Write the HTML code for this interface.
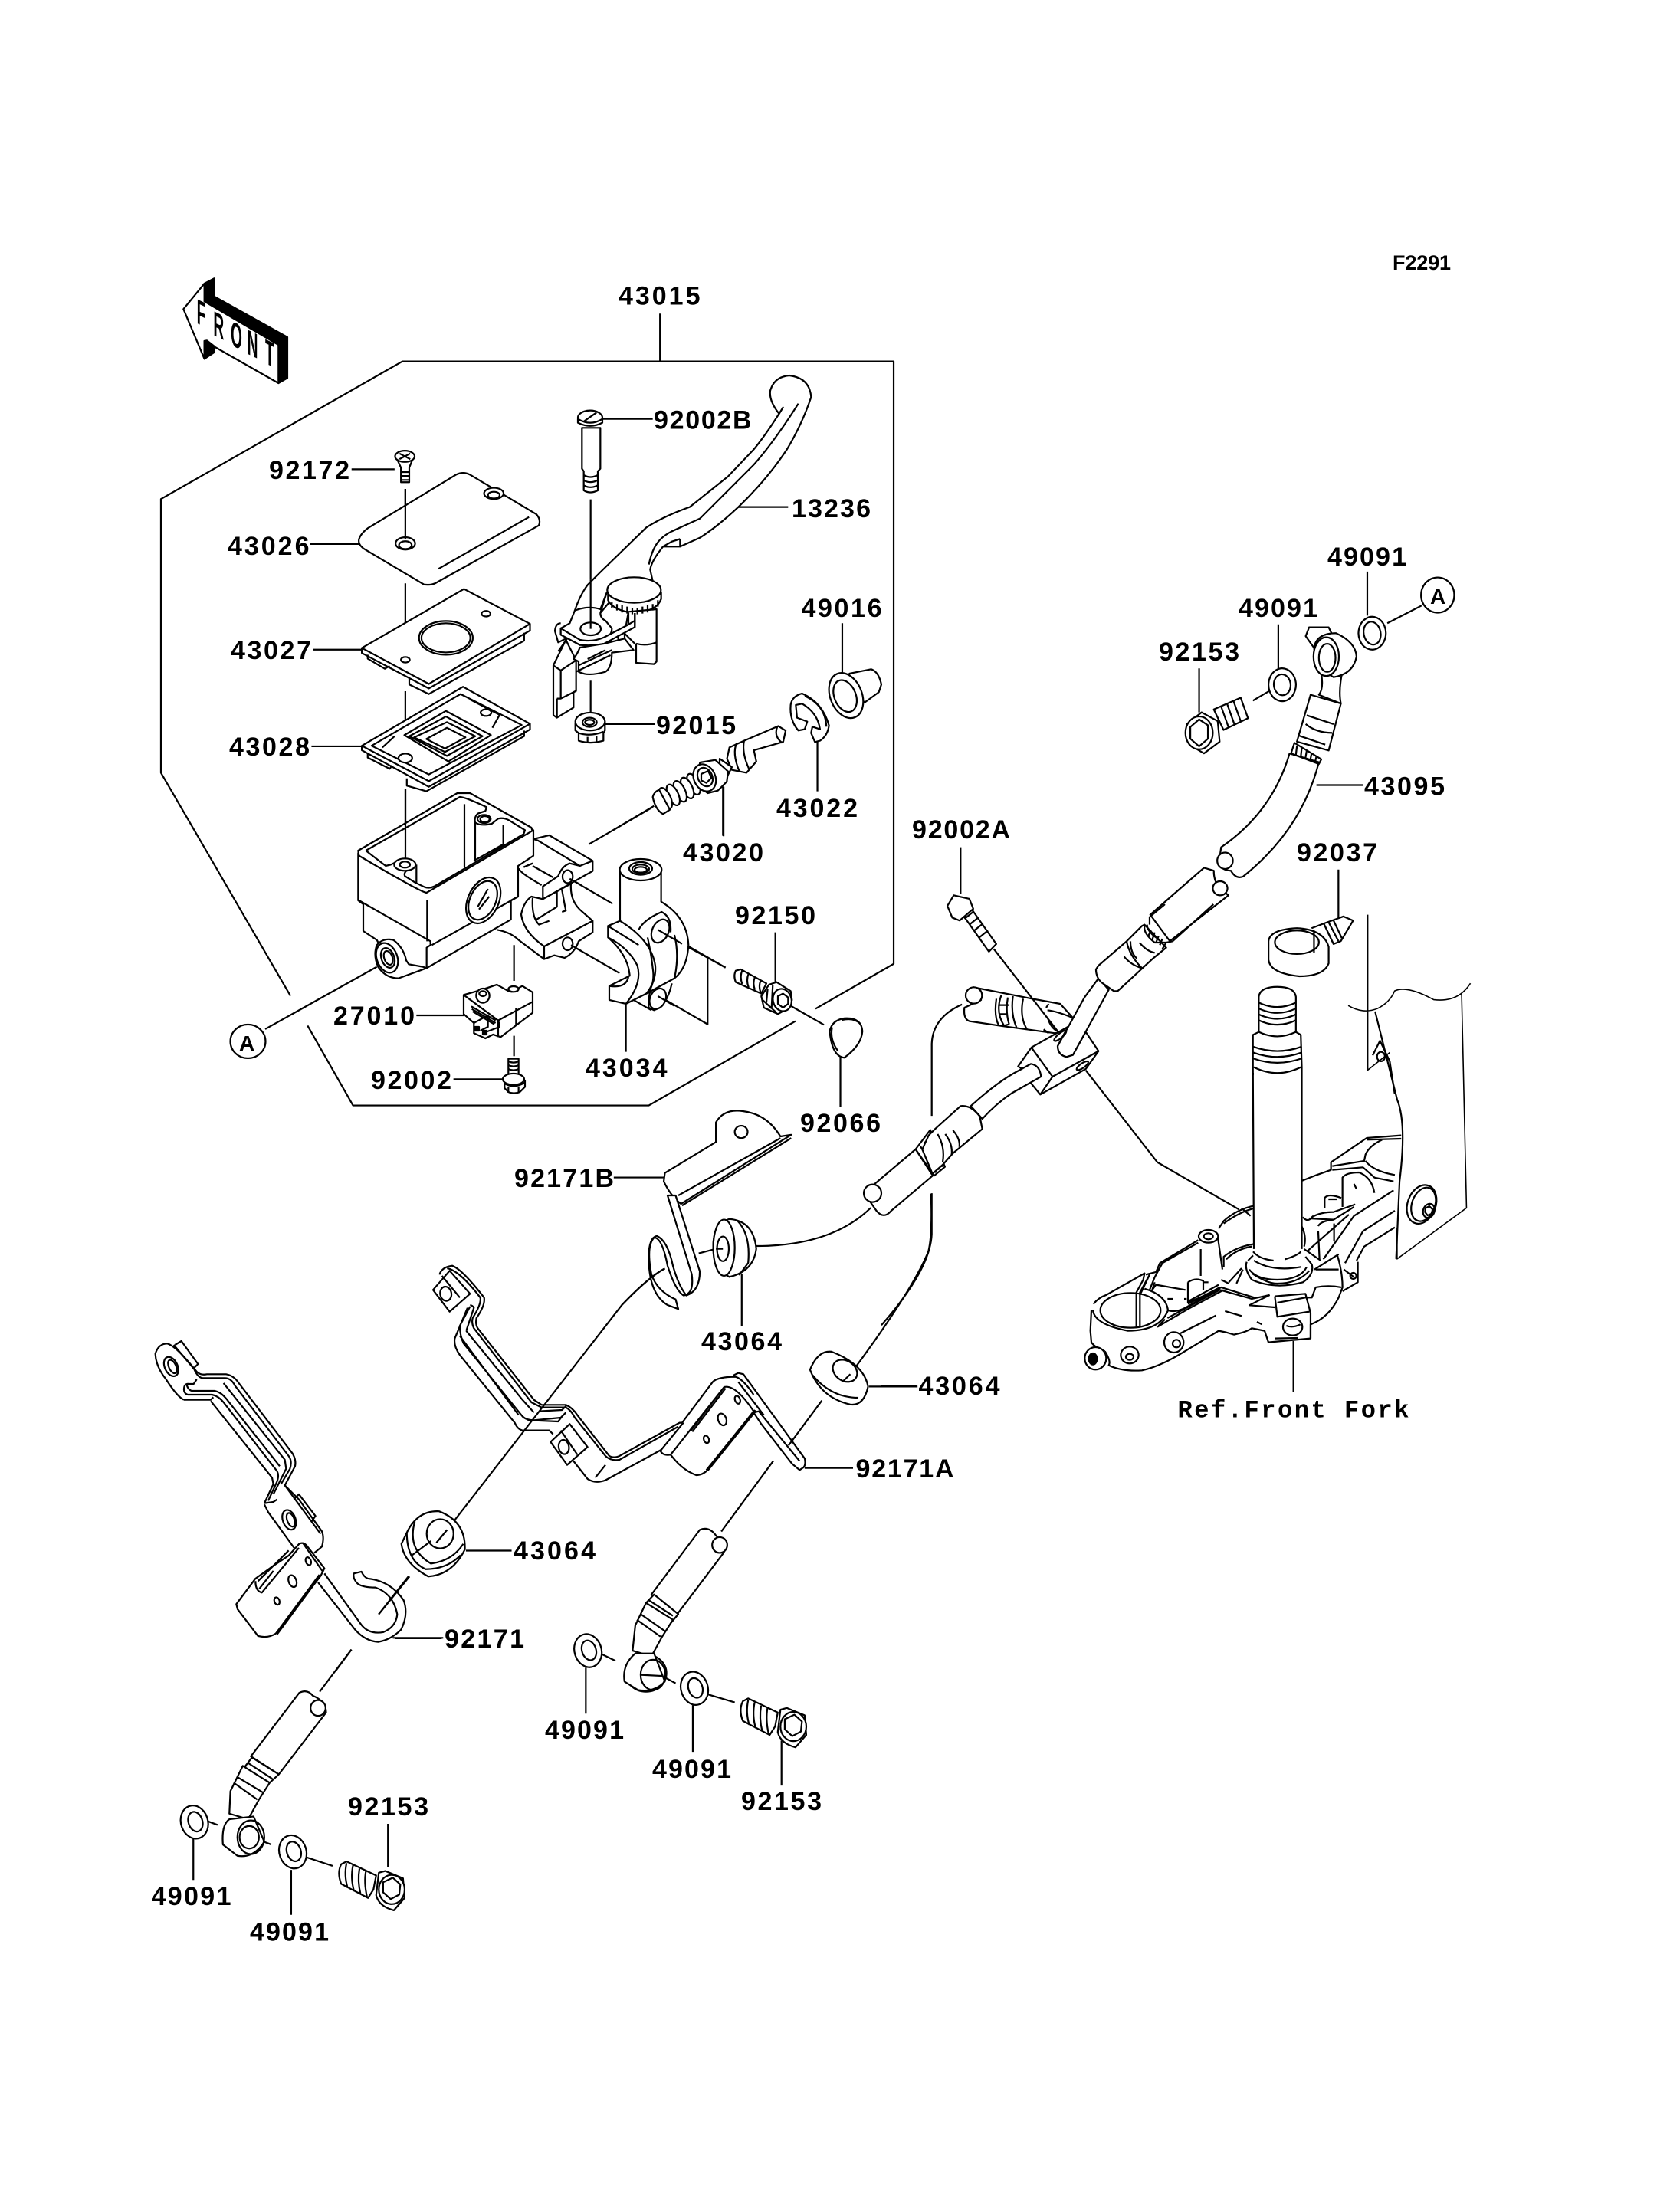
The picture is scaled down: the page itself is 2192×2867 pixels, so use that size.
<!DOCTYPE html>
<html><head><meta charset="utf-8"><style>
html,body{margin:0;padding:0;background:#fff}
svg{display:block}
path,ellipse,circle,polygon{fill:none;stroke:#000;stroke-width:2.2;vector-effect:non-scaling-stroke;stroke-linejoin:round}
.w{fill:#fff}
.k{fill:#000}
.t{stroke-width:1.6}
text{font-family:"Liberation Sans",sans-serif;font-weight:bold;font-size:34px;fill:#000}
</style></head><body>
<svg width="2192" height="2867" viewBox="0 0 2192 2867" xmlns="http://www.w3.org/2000/svg">
<rect width="2192" height="2867" fill="#fff"/>
<defs>
<g id="bolt">
<path class="w" d="M-90 -40Q-98 -25 -90 -5L-40 20L-30 5L-25 -20L-80 -45Z"/>
<path d="M-80 -42Q-85 -20 -78 2M-68 -38Q-73 -15 -66 8M-56 -32Q-60 -10 -54 13M-44 -28Q-48 -8 -42 18"/>
<path class="w" d="M-20 -25L-8 -28L25 -15L28 20L8 42Q-20 35 -25 15Z"/>
<ellipse class="w" cx="4" cy="5" rx="24" ry="26"/>
<polygon points="-12,-8 6,-16 20,-4 18,14 2,22 -12,10"/>
</g>
<g id="washer">
<ellipse class="w" cx="0" cy="0" rx="25" ry="30" transform="rotate(-20)"/>
<ellipse cx="2" cy="0" rx="13" ry="18" transform="rotate(-20)"/>
</g>
</defs>

<!-- FRONT arrow -->
<g transform="translate(220,350) scale(.3333)">
<path class="k" d="M140 60L178 40V110L465 270V430L430 450V300L140 130Z"/>
<path class="w" d="M140 60L58 160L140 355V285L430 450V300L140 130Z"/>
<path class="k" d="M140 285L150 283L178 305V330L140 355Z"/>
<text style="font-size:137px" transform="translate(110,215) skewY(25) scale(.42,1)">F</text>
<text style="font-size:137px" transform="translate(175,262) skewY(25) scale(.42,1)">R</text>
<text style="font-size:137px" transform="translate(243,300) skewY(25) scale(.42,1)">O</text>
<text style="font-size:137px" transform="translate(308,335) skewY(25) scale(.42,1)">N</text>
<text style="font-size:137px" transform="translate(378,372) skewY(25) scale(.42,1)">T</text>
</g>

<!-- ===== GROUP 1 : cover, gasket, diaphragm, misc ===== -->
<g transform="translate(180,330) scale(.6378,.7334)">
<path d="M1068 108V193M312 1322L47 925V438L541 193H1546V1265L1386 1345M1345 1367L1045 1517H440L347 1375"/>
<path d="M437 385H525M352 518H452M358 706H458M355 878H458M547 420V510M547 588V720M547 780V890M1390 870V958M1198 950V1038M1437 1430V1520"/>
<!-- screw 92172 -->
<ellipse class="w" cx="546" cy="362" rx="20" ry="10"/>
<path d="M535 357L557 367M557 357L535 367M530 367L538 382V408H555V382L562 367M538 390H555M538 397H555M538 404H555"/>
<!-- cover 43026 -->
<path class="w" d="M452 510Q455 500 470 490L650 395Q665 388 680 395L815 465Q825 475 820 485L610 587Q600 592 585 590L465 528Q450 520 452 510Z"/>
<path d="M615 562L800 470"/>
<ellipse class="w" cx="547" cy="517" rx="20" ry="11"/><ellipse cx="547" cy="520" rx="13" ry="7"/>
<ellipse class="w" cx="728" cy="428" rx="20" ry="10"/><ellipse cx="728" cy="431" rx="12" ry="6"/>
<path d="M547 420V510"/>
<!-- gasket 43027 -->
<path class="w" d="M458 703L667 598L802 660V672L595 775L458 712Z"/>
<path d="M458 703L595 767L802 660M470 715V722L505 740L515 735M555 757V768L595 785L790 690V676"/>
<ellipse cx="630" cy="685" rx="55" ry="30"/><ellipse cx="630" cy="685" rx="50" ry="26"/>
<ellipse cx="712" cy="642" rx="9" ry="5"/><ellipse cx="547" cy="724" rx="9" ry="5"/>
<!-- diaphragm 43028 -->
<path class="w" d="M458 877L665 772L802 838V848L595 950L458 885Z"/>
<path d="M458 877L595 940L802 838M470 890V898L515 918L520 912M550 935V948L590 958L790 860V850M478 877L660 785L785 840L595 928Z"/>
<path d="M545 858L630 815L722 858L635 905ZM555 860L630 825L705 860L632 895ZM565 862L632 835L690 860L628 888Z"/>
<path d="M590 865L632 845L670 862L628 882Z"/>
<ellipse class="w" cx="547" cy="899" rx="14" ry="8"/><ellipse class="w" cx="712" cy="818" rx="11" ry="6"/>
<path d="M680 795L740 822L725 845M500 880L525 860"/>
<!-- piston -->
<path class="w" d="M1310 842L1325 850L1320 870L1260 885L1265 905L1245 925L1215 920L1205 900L1210 880L1240 868Z"/>
<path d="M1225 872Q1215 890 1230 922M1240 868Q1235 890 1250 918"/>
<path d="M1308 843Q1300 860 1318 872"/>
<path class="w" d="M1190 900L1215 915L1195 950L1175 958L1190 930Z"/>
<!-- cap 92066 -->
<path class="w" d="M1415 1385Q1420 1365 1445 1362Q1480 1360 1482 1385Q1480 1410 1445 1432Q1420 1430 1415 1385Z"/>
<path d="M1420 1378Q1415 1400 1432 1420M1478 1372Q1465 1360 1440 1365"/>
<ellipse class="w" cx="225" cy="1403" rx="36" ry="30"/>
</g>

<!-- lever 13236 etc -->
<g transform="translate(700,480) scale(.3333)">
<path d="M258 200H455M268 1395H465M790 545H985M1197 1000V1195M212 515V830M212 1225V1350"/>
<path class="w" d="M950 180Q910 130 915 90Q930 35 990 30Q1070 40 1075 115Q1040 220 980 320Q900 440 790 545Q710 620 640 665L562 700H495L480 720Q450 760 445 790L455 835L300 900L250 960L150 950Q170 890 200 850L250 800L430 625Q500 580 600 545L750 425L850 320Q900 260 965 155Z"/>
<path d="M1025 140Q930 290 850 380L640 590L530 640Q490 660 470 690Q450 720 440 770M562 670V700M495 700L530 680L562 670"/>
<!-- knob -->
<path class="w" d="M280 885V910Q300 950 380 960Q470 955 488 905V880Z"/>
<path class="w" d="M470 945V1150L460 1160L390 1155V1085L345 1040L360 955Z"/>
<path d="M390 1080Q430 1090 470 1075M385 960V1015"/>
<ellipse class="w" cx="382" cy="870" rx="105" ry="50"/>
<path d="M295 915V940M315 925V950M335 930V958M355 935V962M375 940V965M395 940V965M415 935V962M435 930V958M455 925V950M475 910V935"/>
<path class="w" d="M275 880L250 960Q250 980 270 990L295 1020Q295 1050 265 1060L170 1085L95 1045V1020L130 1000L150 950Q200 930 250 945Z"/>
<!-- plate -->
<path class="w" d="M95 1020V1045L170 1085Q220 1090 265 1080L385 1015V990L360 1005L265 1055Q220 1075 170 1065Z"/>
<ellipse class="w" cx="212" cy="1022" rx="40" ry="25"/>
<path d="M212 830V1022M345 1040V1060M320 1045V1065M385 1015V960M360 1005V960"/>
<!-- ear -->
<path d="M95 1000Q75 1000 72 1030L85 1075L115 1060M85 1110L120 1060"/>
<path class="w" d="M66 1165L115 1065L155 1145V1265L145 1270V1330L80 1370L66 1360Z"/>
<path d="M66 1165L95 1185L155 1145M95 1185V1295L155 1265M80 1295H95M80 1295V1370"/>
<!-- under -->
<path class="w" d="M170 1095Q160 1120 145 1140L165 1150V1190Q200 1210 270 1190Q295 1175 295 1115L380 1105L345 1060L265 1080Z"/>
<path d="M200 1140L270 1105M165 1165L295 1105M155 1190L290 1125"/>
<!-- pin -->
<path class="w" d="M178 235V395L185 405V480Q210 495 240 480V405L250 395V235Z"/>
<ellipse class="w" cx="210" cy="195" rx="48" ry="28"/>
<path class="w" d="M162 200V215Q210 240 258 215V200Q210 230 162 200Z"/>
<path d="M185 210L235 175M185 420Q210 435 240 420M185 440Q210 455 240 440M185 460Q210 475 240 460"/>
<!-- nut -->
<path class="w" d="M152 1390V1420L165 1430V1460Q210 1475 262 1460V1430L268 1420V1385Z"/>
<ellipse class="w" cx="210" cy="1385" rx="58" ry="35"/>
<ellipse cx="208" cy="1388" rx="28" ry="18"/><ellipse cx="208" cy="1388" rx="18" ry="10"/>
<path d="M165 1430Q210 1445 262 1425M200 1445V1470M235 1440V1465"/>
<!-- boot -->
<path class="w" d="M1225 1197L1310 1180Q1340 1190 1350 1240L1340 1270L1285 1310L1225 1260Z"/>
<ellipse class="w" cx="1212" cy="1283" rx="62" ry="92" transform="rotate(-22 1212 1283)"/>
<ellipse cx="1208" cy="1285" rx="42" ry="65" transform="rotate(-22 1208 1285)"/>
<!-- circlip -->
<path class="w" d="M995 1320Q1000 1285 1040 1275Q1120 1310 1145 1400Q1140 1440 1110 1460L1090 1465L1075 1430L1080 1405L1110 1415Q1100 1350 1040 1315L1015 1320L1020 1370L1060 1385L1050 1415L1025 1420Q990 1380 995 1320Z"/>
<path d="M1050 1285Q1130 1320 1135 1405"/>
</g>

<!-- spring & screw 92150 -->
<g transform="translate(800,1000) scale(.3333)">
<path d="M635 650V845M690 935L825 1012M440 788L170 640M0 250L160 155"/>
<ellipse class="w" cx="315" cy="70" rx="20" ry="44" transform="rotate(-25 315 70)"/>
<ellipse class="w" cx="290" cy="85" rx="20" ry="44" transform="rotate(-25 290 85)"/>
<ellipse class="w" cx="262" cy="98" rx="20" ry="44" transform="rotate(-25 262 98)"/>
<ellipse class="w" cx="235" cy="112" rx="20" ry="44" transform="rotate(-25 235 112)"/>
<ellipse class="w" cx="205" cy="125" rx="20" ry="44" transform="rotate(-25 205 125)"/>
<path class="w" d="M155 120Q160 100 180 92L222 170L195 187Q165 170 155 120Z"/>
<path class="w" d="M340 -15L400 -25L450 20L445 60L410 95L370 105L325 70Z"/>
<ellipse class="w" cx="358" cy="45" rx="42" ry="55" transform="rotate(-25 358 45)"/>
<ellipse cx="360" cy="42" rx="28" ry="38" transform="rotate(-25 360 42)"/>
<path d="M345 30L372 18L385 45L365 65L345 55Z"/>
<!-- screw -->
<path class="w" d="M480 800Q470 820 480 845L580 890L600 850L500 795Z"/>
<path d="M505 800Q495 825 505 852M530 812Q520 838 530 865M555 825Q545 850 555 875M578 838Q568 860 578 888"/>
<path class="w" d="M610 855L640 845L695 880L700 915L690 945L645 970L590 945L580 900Z"/>
<ellipse class="w" cx="662" cy="915" rx="36" ry="44" transform="rotate(-15 662 915)"/>
<polygon points="645,900 665,890 685,905 685,930 665,945 645,930"/>
<path d="M605 870L600 925M625 855L620 950M585 915L640 965"/>
</g>

<!-- body / clamp / switch -->
<g transform="translate(450,1020) scale(.3333)">
<path d="M237 30V310M280 915H465M425 1165H620M955 245L1205 100M1100 870V1058M1250 590L1490 728M1230 840L1420 950V690M1480 20V212M880 380L1048 478M885 640L1075 750M662 640V780M662 995V1075M-312 969L125 725"/>
<!-- rim -->
<path class="w" d="M52 270L440 45H490L730 180L738 205L320 435Q300 435 55 290Z"/>
<path d="M82 270L450 60Q470 60 555 100L550 115L520 125Q505 140 510 160V310M510 160Q530 175 575 165L600 145Q620 140 640 150L705 190L700 205L350 410Q330 420 310 412L275 395L235 370Q225 350 275 330M82 270L160 330L180 325L210 310M280 325V395M468 88V335M620 170V245M505 310L620 245"/>
<path d="M237 30V310"/>
<ellipse class="w" cx="235" cy="325" rx="42" ry="24"/><ellipse cx="235" cy="325" rx="20" ry="12"/>
<ellipse class="w" cx="545" cy="146" rx="26" ry="16"/>
<ellipse cx="548" cy="147" rx="18" ry="12"/>
<!-- walls -->
<path class="w" d="M52 280V465L72 480V585L125 620L200 760L320 730L650 540V465L678 450V330L738 290V190L320 435Q300 435 55 290Z"/>
<path d="M55 465L335 625V640L320 650V730M322 465V625M340 640L678 450M700 335L735 320"/>
<!-- sight -->
<ellipse class="w" cx="542" cy="465" rx="60" ry="95" transform="rotate(25 542 465)"/>
<ellipse cx="540" cy="465" rx="50" ry="80" transform="rotate(25 540 465)"/>
<path d="M520 490L560 420M525 500L565 450"/>
<!-- port -->
<path class="w" d="M125 640Q150 610 190 620Q230 650 240 700L250 715L305 725L320 730L210 770Q160 770 130 725Q110 680 125 640Z"/>
<ellipse class="w" cx="165" cy="690" rx="40" ry="60" transform="rotate(-20 165 690)"/>
<ellipse cx="168" cy="690" rx="25" ry="40" transform="rotate(-20 168 690)"/>
<ellipse cx="170" cy="690" rx="16" ry="28" transform="rotate(-20 170 690)"/>
<!-- clamp halves -->
<path class="w" d="M738 225L800 210L970 310V350L890 395L775 460V410L835 370Q850 330 880 320L920 330L755 230Z"/>
<path d="M920 330L970 310M680 340Q690 360 770 405M735 330L815 375M700 335L735 320"/>
<path class="w" d="M775 460L730 450Q700 470 690 520Q700 590 780 645V695L820 680L860 690Q900 670 915 625L970 590V545L930 510Q880 470 885 400L775 460Z"/>
<path d="M735 455Q730 530 760 560L800 545M750 540L830 490V425M850 425L860 480L865 505L850 510M780 645L970 545M595 580Q650 590 680 620L780 695"/>
<ellipse class="w" cx="872" cy="372" rx="20" ry="25"/>
<ellipse class="w" cx="872" cy="635" rx="20" ry="25"/>
<path d="M880 380L925 405M885 640L925 663"/>
<!-- clamp 43034 -->
<path class="w" d="M1077 345V545L1030 565V610Q1110 680 1115 760L1035 800V855L1100 870L1180 830L1290 770Q1340 730 1345 640Q1340 530 1238 470V345Z"/>
<ellipse class="w" cx="1158" cy="345" rx="82" ry="42"/>
<ellipse cx="1158" cy="340" rx="45" ry="25"/><ellipse cx="1158" cy="342" rx="33" ry="17"/><ellipse cx="1158" cy="345" rx="24" ry="11"/>
<path d="M1030 565L1150 640M1077 545Q1200 620 1215 720Q1220 780 1180 830M1030 610Q1110 650 1145 720Q1165 790 1100 870M1035 800Q1100 810 1110 765M1150 580Q1170 540 1240 510Q1280 530 1275 590M1185 610Q1200 680 1205 730Q1215 790 1185 830M1290 600Q1310 680 1290 770M1195 820Q1185 870 1190 885L1210 895Q1260 880 1280 790M1130 855L1200 895"/>
<ellipse class="w" cx="1235" cy="585" rx="32" ry="48" transform="rotate(25 1235 585)"/>
<ellipse class="w" cx="1225" cy="850" rx="30" ry="42" transform="rotate(25 1225 850)"/>
<path d="M1225 580L1320 635M1225 840L1290 878"/>
<!-- switch -->
<path class="w" d="M465 835L535 815L595 795L640 820Q660 830 685 805L695 800L735 825V905L610 1000L580 990L550 1005L505 985V945L465 910Z"/>
<path d="M465 835L600 935L735 862M600 935V1000M670 885V955M495 880L590 935M497 890L590 945M500 900L585 950M505 945L560 915V960L530 975M540 985L605 960V940"/>
<ellipse class="w" cx="540" cy="838" rx="26" ry="28"/><ellipse cx="540" cy="830" rx="14" ry="10"/>
<ellipse class="w" cx="660" cy="812" rx="20" ry="11"/>
<path class="k" d="M510 960H525V975H510ZM540 975H555V990H540Z"/>
<!-- screw 92002 -->
<path class="w" d="M640 1085H680V1145H640Z"/>
<path d="M640 1095Q660 1105 680 1095M640 1110Q660 1120 680 1110M640 1125Q660 1135 680 1125"/>
<path class="w" d="M625 1175V1200L640 1215Q660 1225 685 1215L705 1195V1170Z"/>
<ellipse class="w" cx="660" cy="1165" rx="42" ry="22"/>
<path d="M640 1195V1218M680 1195V1218M622 1180Q660 1205 705 1178"/>
</g>

<!-- ===== triple clamp ===== -->
<g transform="translate(1400,1400) scale(.3333)">
<path d="M80 905Q100 880 130 870L280 785L275 810L248 860V995M262 870L300 790L262 860V990M285 790L325 780L340 745L490 655M300 850L320 800L350 745L490 665"/>
<path d="M78 930Q85 985 215 1010Q340 1010 372 930Q365 870 280 845M72 930L68 1010L72 1055Q85 1075 125 1090"/>
<ellipse cx="225" cy="930" rx="118" ry="68"/>
<path d="M565 630L585 770M570 610L590 580Q640 535 710 520M590 590Q650 545 710 530M500 690V795M660 530L695 560"/>
<path d="M320 820L310 850L325 830L440 850M372 930Q400 940 440 920L580 840L710 880M370 960L575 850L700 885L770 870M450 905L575 840M450 895L570 830M450 900L575 845M335 990L360 965"/>
<path d="M450 820Q480 800 510 815V850M450 820V900M370 885H392M435 885H445M510 820H530"/>
<path d="M125 1090Q150 1130 140 1145Q190 1170 270 1165Q340 1150 430 1095L570 1010Q600 1015 630 1025Q680 1015 700 1000L750 1010L765 1055L930 1040V985Q1000 960 1040 880L1055 840Q1055 780 1035 715"/>
<path d="M330 995L450 925L590 850M420 1020L560 950M595 933L660 952M720 975L740 985"/>
<path d="M790 875L910 865L930 940V1040M790 875L800 955L925 935M800 900L910 880M690 910L790 918M790 1040L880 1038M690 910L770 870M910 880H935L950 840Q1000 830 1050 840"/>
<ellipse cx="860" cy="995" rx="38" ry="33"/><path d="M835 990Q860 1000 890 985"/>
<!-- flange -->
<path d="M680 740Q670 770 700 810Q790 850 900 820Q945 790 935 750L910 720M690 770Q720 810 800 810Q890 810 915 760M700 785Q760 825 800 825Q880 825 925 775M685 735L705 715"/>
<path d="M590 760V720Q640 680 710 670M600 730Q640 690 700 680M610 820L660 765M640 825L665 770M610 825L580 810"/>
<!-- right arm -->
<path d="M890 425Q950 400 1010 380V350L1150 255Q1220 250 1285 245M1015 365L1140 345L1145 320Q1160 285 1210 262M1145 345Q1175 385 1260 400M1015 380L1135 370Q1170 400 1180 410L1255 425M1150 262L1285 258"/>
<path d="M1055 525V410Q1070 390 1120 390Q1170 410 1180 470M1100 435L1110 455M985 530V490Q1000 470 1050 490M1000 495H1035"/>
<path d="M935 565Q970 545 1020 545L1105 515M925 570L1020 575L1100 525M960 620L965 730M960 600Q970 580 1020 575M1022 590V660"/>
<path d="M905 690L970 735M915 700L1080 555M980 730L1100 560L1255 460M945 770L1040 710M1065 745L1135 620L1260 540M1110 735L1140 680L1260 605M1115 740V820L1055 855M1060 770L1100 800M1040 770H950"/>
<ellipse cx="1097" cy="795" rx="12" ry="12"/>
<path d="M900 565Q920 590 940 560M895 600Q915 640 905 680"/>
<!-- stem marks -->
<path d="M708 0Q720 50 830 50M860 40L895 20M715 70L745 100M790 110Q860 110 890 70M770 605L845 650M710 630L740 655M772 665Q830 680 892 630M705 700Q730 730 785 735M830 730Q880 715 892 700M708 735Q780 780 892 760"/>
<!-- bosses -->
<ellipse class="w" cx="530" cy="640" rx="38" ry="25"/><ellipse cx="530" cy="640" rx="18" ry="12"/>
<ellipse class="w" cx="395" cy="1055" rx="38" ry="40"/><ellipse cx="405" cy="1060" rx="15" ry="15"/>
<ellipse class="w" cx="222" cy="1105" rx="35" ry="33"/><ellipse cx="222" cy="1112" rx="15" ry="12"/>
<ellipse class="w" cx="88" cy="1118" rx="42" ry="44"/><ellipse class="k" cx="78" cy="1120" rx="16" ry="22"/>
<!-- fork bolt -->
<ellipse class="w" cx="1365" cy="515" rx="55" ry="78" transform="rotate(20 1365 515)"/>
<ellipse cx="1372" cy="515" rx="45" ry="68" transform="rotate(20 1372 515)"/>
<ellipse cx="1393" cy="540" rx="22" ry="28" transform="rotate(20 1393 540)"/>
<polygon points="1380,530 1395,522 1408,535 1403,552 1388,558 1378,545"/>
<path d="M863 1050V1248"/>
</g>

<!-- ===== GROUP 2 : upper hose / fork ===== -->
<g transform="translate(1150,700) scale(.6378,.7653)">
<path d="M994 60V135M812 150V225M1035 148L1105 118M760 280L805 258M650 225V300M890 424H985M162 530V610M935 568V650M0 1448H72"/>
<path d="M103 865V988M103 1120V1190Q100 1250 0 1345M165 798Q105 820 103 865"/>
<!-- washers -->
<ellipse class="w" cx="1004" cy="165" rx="28" ry="28" transform="rotate(-25 1004 165)"/><ellipse cx="1004" cy="165" rx="17" ry="20" transform="rotate(-25 1004 165)"/>
<ellipse class="w" cx="820" cy="253" rx="28" ry="28" transform="rotate(-25 820 253)"/><ellipse cx="820" cy="253" rx="17" ry="18" transform="rotate(-25 820 253)"/>
<!-- bolt upper -->
<path class="w" d="M680 295L735 275L750 310L700 330Z"/>
<path d="M695 290L710 325M707 285L722 320M720 280L735 315"/>
<path class="w" d="M625 320L655 300L688 315L692 350L660 370L630 355Z"/>
<ellipse class="w" cx="650" cy="335" rx="28" ry="28"/>
<polygon points="632,325 650,312 668,322 668,345 650,358 632,345"/>
<!-- upper banjo -->
<path class="w" d="M868 170L875 155H915L925 172L885 190Z"/>
<path class="w" d="M900 235Q905 260 895 270L940 285Q935 265 942 235Z"/>
<path class="w" d="M885 190Q890 165 930 165Q970 180 972 205Q965 235 925 240Q890 225 885 190Z"/>
<ellipse class="w" cx="910" cy="205" rx="26" ry="33"/><ellipse cx="912" cy="207" rx="17" ry="24"/>
<path class="w" d="M878 270L940 285L915 365L850 350Z"/>
<path d="M870 305L925 320M868 320Q890 335 922 335M855 340L908 355"/>
<path class="w" d="M835 370L895 385Q860 500 740 580Q725 585 715 570Q700 570 690 560L695 530Q800 470 835 370Z"/>
<path class="w" d="M845 352L900 380L895 388L838 370Z"/>
<path d="M850 358L848 372M860 360L858 376M870 366L867 380M880 370L877 383M890 375L887 385M835 370L895 385"/>
<ellipse class="w" cx="703" cy="553" rx="16" ry="14"/>
<path class="w" d="M660 565L680 570Q680 590 693 600L710 612L590 690L550 645Z"/>
<ellipse class="w" cx="693" cy="600" rx="15" ry="12"/>
<!-- lower hose tail -->
<path class="w" d="M70 1045L100 1012L130 1075L108 1090Z"/>
<path d="M80 1040L112 1085M88 1032L118 1080M96 1024L125 1075"/>
<path class="w" d="M70 1045L-15 1105L-35 1120L-10 1150Q5 1165 20 1150L105 1090Z"/>
<ellipse class="w" cx="-18" cy="1120" rx="18" ry="15"/>
<!-- bolt 92002A -->
<path class="w" d="M162 640L180 630L235 695L220 708Z"/>
<path d="M170 652L188 640M180 662L198 650M190 672L208 660M200 684L218 672"/>
<path class="w" d="M135 630L148 612L180 618L188 635L160 655L145 650Z"/>
<!-- stem -->
<path class="w" d="M772 785Q775 768 810 768Q845 768 848 785V845L858 850L860 905L858 1215L762 1215V905L760 850L772 845Z" style="stroke:none"/>
<path d="M772 785Q775 768 810 768Q845 768 848 785V845L858 850L860 905V1215M772 785V845L760 850V905L762 1215"/>
<path d="M772 795Q810 810 848 795M772 805Q810 820 848 805M772 815Q810 830 848 815M772 825Q810 840 848 825M772 845Q810 860 848 845M760 870Q810 885 860 870M760 880Q810 895 860 880M760 890Q810 905 860 890M762 905Q810 925 858 905"/>
<!-- 92037 ring -->
<path class="w" d="M792 690Q795 670 850 668Q905 670 915 700V728Q905 750 855 750Q795 745 792 722Z"/>
<ellipse cx="850" cy="692" rx="45" ry="20"/>
<path d="M885 672V710M880 668L905 660L925 695"/>
<path class="w" d="M905 660L945 648L965 655L940 690L925 695Z"/>
<path d="M915 658L935 690M925 655L942 685"/>
<!-- fork outline -->
<path class="t" d="M995 645V910L1040 880M955 800Q985 815 1015 805Q1040 795 1050 775Q1075 765 1130 790Q1180 795 1205 762M1187 780L1197 1145L1055 1232V1180"/>
<path d="M1010 810L1055 960Q1075 1000 1060 1100L1053 1232"/>
<path d="M1005 885L1020 860L1040 895L1050 950"/>
<ellipse cx="1022" cy="887" rx="8" ry="8"/>
<ellipse class="w" cx="1138" cy="100" rx="34" ry="30"/>
</g>

<!-- ===== hose junction ===== -->
<g transform="translate(1220,1180) scale(.3333)">
<path d="M590 650L870 1010L1190 1195"/>
<!-- banjo lower -->
<path class="w" d="M150 325L380 370L490 390L540 445Q530 490 470 505L360 490L270 478L135 458Q110 450 115 405L180 375Z"/>
<ellipse class="w" cx="152" cy="357" rx="32" ry="32"/>
<path d="M240 370Q230 440 250 475M260 355Q235 420 270 475L290 470M285 365Q275 420 290 470M305 360Q295 430 320 485M345 370Q330 440 360 490M440 415Q480 420 540 445M440 440Q450 480 475 495M435 405L445 390M425 490L445 505M250 395H290M250 430H285"/>
<path d="M230 175L490 510"/>
<!-- upper ferrule and neck -->
<path d="M840 50L900 0M930 145L1090 0M840 50V80"/>
<path class="w" d="M640 290L585 365L480 555Q480 590 515 598L540 590L680 335Z"/>
<path class="w" d="M810 85L750 145L640 240L630 255Q630 285 650 305L700 340H715L850 215L905 170L820 80Z"/>
<path d="M750 145Q760 200 810 250M800 150Q830 185 860 190M765 145Q765 190 790 212M740 205Q770 240 810 250"/>
<path d="M820 85Q815 115 860 150L905 150M830 80Q830 110 880 140M845 100L835 125M860 110L850 140M875 125L865 150M890 135L880 160"/>
<path d="M930 145L905 150L890 175"/>
<!-- block -->
<path class="w" d="M378 560L520 480L480 555Q480 590 515 598L540 590L590 500L640 575L590 645L412 745L375 700L350 650L325 635Z"/>
<path d="M378 562L460 675L640 575M460 675L412 745"/>
<ellipse cx="577" cy="632" rx="27" ry="9" transform="rotate(-35 577 632)"/>
<ellipse cx="490" cy="515" rx="30" ry="9" transform="rotate(-40 490 515)"/>
<!-- lower neck -->
<path class="w" d="M140 790Q250 690 330 650L375 625Q410 630 415 675L300 740Q240 780 185 840Z"/>
<!-- lower ferrule -->
<path class="w" d="M-25 905L0 880L100 790Q140 785 175 830L185 880L70 975L30 1020L-10 1055L-50 960Z"/>
<path d="M70 885Q100 920 95 950M40 900Q70 940 65 980M10 900Q40 950 30 1010"/>
</g>

<!-- ===== GROUP 3 : lower part ===== -->
<g transform="translate(180,1450) scale(.7015,.7334)">
<path d="M885 118H978M1043 253L1075 245M1150 240Q1290 240 1363 172M1123 290V382M1325 468Q1440 320 1470 250Q1478 220 1475 147M1360 490H1450M1272 515L1210 595M1240 635H1330M1182 622L1085 748M575 745L900 345Q950 295 980 280M448 895L505 828M610 782H695M478 938H565M397 958L338 1033M833 990V1072M1032 1057V1140M860 965L888 978M975 1005L1000 1018M1050 1035L1110 1052M1197 1120V1200M103 1295V1368M285 1350V1430M465 1268V1345M120 1260L148 1270M220 1295L248 1305M305 1325L362 1343"/>
<!-- grommet 3 -->
<path class="w" d="M500 750Q520 710 560 712Q610 730 608 780Q585 825 540 828Q495 805 490 770Z"/>
<path d="M500 750Q500 800 535 815Q575 815 600 790M515 730Q500 780 545 805Q585 800 605 770"/>
<ellipse class="w" cx="562" cy="752" rx="25" ry="26"/>
<path d="M510 790L545 765M575 745L555 768"/>
<!-- clip B -->
<path class="w" d="M980 110L1075 55V20Q1090 -5 1125 0Q1170 5 1195 45L1215 42L1010 165Q990 150 978 125Z"/>
<path d="M1215 48L1012 168M1195 48L1005 150"/>
<ellipse cx="1122" cy="37" rx="12" ry="11"/>
<path class="w" d="M985 150L1030 290Q1035 325 1015 328Q1000 320 985 275Q975 225 960 225Q945 240 955 290Q965 320 1000 335L1005 352L985 345Q950 325 950 260Q950 225 965 222Q985 230 995 275Q1005 310 1020 328Q1045 320 1045 285L1000 150Z"/>
<path d="M980 280Q950 295 900 345"/>
<!-- grommet 1 -->
<path class="w" d="M1100 192Q1145 195 1150 245Q1145 285 1100 295Q1070 280 1070 240Q1070 200 1100 192Z"/>
<ellipse class="w" cx="1090" cy="243" rx="20" ry="50"/>
<ellipse cx="1088" cy="245" rx="11" ry="22"/>
<path d="M1115 195Q1140 220 1135 270L1118 292M1075 245H1088"/>
<!-- grommet right -->
<path class="w" d="M1250 460Q1265 425 1290 428Q1350 450 1358 490Q1350 525 1325 522Q1270 510 1250 460Z"/>
<path d="M1255 470Q1290 510 1340 510"/>
<ellipse class="w" cx="1315" cy="462" rx="24" ry="18" transform="rotate(30 1315 462)"/>
<path d="M1325 468L1312 480"/>
<!-- lower hose right -->
<path class="w" d="M1045 745Q1062 738 1075 755Q1090 770 1090 785L1003 895L955 860Z"/>
<ellipse class="w" cx="1082" cy="772" rx="14" ry="14"/>
<path class="w" d="M945 875L960 860L1005 895L990 912L945 895Z"/>
<path d="M950 870L995 898M945 878L990 905M948 885L990 912"/>
<path class="w" d="M925 915L945 875L995 905L975 935L955 970L920 960Z"/>
<path d="M935 895L980 925M928 905L972 935"/>
<ellipse class="w" cx="945" cy="1000" rx="38" ry="33"/>
<path class="w" d="M925 965Q900 985 905 1015L930 1030Q960 1035 980 1015L960 965Z"/>
<ellipse cx="958" cy="1003" rx="23" ry="27"/>
<path d="M935 1003L975 1005"/>
<use href="#washer" transform="translate(837,960)"/>
<use href="#washer" transform="translate(1035,1027)"/>
<use href="#bolt" transform="translate(1215,1090)"/>
<!-- lower hose left -->
<path class="w" d="M300 1035Q315 1028 325 1040Q350 1050 350 1070L262 1180L210 1148Z"/>
<ellipse class="w" cx="335" cy="1062" rx="14" ry="14"/>
<path class="w" d="M200 1165L212 1150L262 1180L245 1195L200 1180Z"/>
<path d="M205 1160L250 1188M200 1170L245 1195"/>
<path class="w" d="M172 1210L195 1165L245 1195L225 1225L205 1260L170 1250Z"/>
<path d="M185 1185L232 1212M178 1195L222 1225"/>
<path class="w" d="M170 1260Q155 1270 158 1305L185 1325Q215 1330 235 1300L215 1255Z"/>
<ellipse cx="210" cy="1292" rx="25" ry="30"/><ellipse cx="207" cy="1292" rx="18" ry="20"/>
<use href="#washer" transform="translate(105,1265)"/>
<use href="#washer" transform="translate(288,1318)"/>
<use href="#bolt" transform="translate(468,1380)"/>
</g>

<!-- ===== left bracket 92171 ===== -->
<g transform="translate(190,1730) scale(.3333)">
<path d="M115 75L140 60L205 150L190 165"/>
<path d="M150 290Q125 280 80 210Q40 160 38 110Q50 70 85 70Q120 80 200 180Q215 195 240 190H315Q345 195 365 225L575 500Q590 525 585 550L545 625L600 680L690 805Q700 830 690 865L660 890"/>
<path d="M110 75L190 170Q205 205 225 205H310Q335 205 350 235L560 510Q575 530 565 560L530 620"/>
<path d="M200 210L188 228H170Q150 225 150 250Q150 265 165 270H260Q285 275 305 300L515 570Q525 590 510 620L480 685"/>
<path d="M160 228Q165 250 180 255H270Q295 260 315 285L525 550"/>
<path d="M305 225L545 525L550 560L500 660M150 290H255L265 280M255 295L495 595L500 620L465 695"/>
<ellipse cx="100" cy="160" rx="25" ry="40" transform="rotate(-25 100 160)"/>
<ellipse cx="105" cy="160" rx="14" ry="28" transform="rotate(-25 105 160)"/>
<path d="M465 695L500 690L515 680M465 700L480 730L585 875M545 625L685 815"/>
<ellipse cx="562" cy="760" rx="25" ry="40" transform="rotate(-20 562 760)"/>
<ellipse cx="568" cy="760" rx="14" ry="28" transform="rotate(-20 568 760)"/>
<path d="M580 680L600 660L665 745L650 765"/>
<path class="w" d="M355 1090L430 990L500 940L560 900L600 855Q615 845 630 860L700 950L685 980L510 1205Q480 1225 440 1215L360 1110Z"/>
<path d="M430 1000Q430 1040 455 1045L600 870M440 1000L560 880M445 1030L500 960M615 850L695 965M510 1205L680 975M515 1208L685 978"/>
<ellipse cx="637" cy="922" rx="10" ry="16" transform="rotate(-20 637 922)"/>
<ellipse cx="575" cy="1000" rx="15" ry="24" transform="rotate(-20 575 1000)"/>
<ellipse cx="514" cy="1078" rx="10" ry="15" transform="rotate(-20 514 1078)"/>
<path d="M675 1005L820 1190Q860 1235 910 1238Q960 1230 1000 1190Q1030 1130 1010 1075Q960 1000 870 990Q855 985 845 963L815 970Q810 990 830 1010Q850 1025 900 1025Q970 1050 985 1130Q980 1180 930 1200Q870 1210 840 1165L700 970"/>
<path d="M968 1222H1165M1030 980L912 1130M806 1268L745 1350"/>
</g>

<!-- ===== middle bracket 92171A ===== -->
<g transform="translate(550,1640) scale(.3333)">
<path d="M70 70Q80 40 120 35Q160 50 245 160Q250 190 215 240Q210 265 220 280L440 560L470 580H565Q590 590 610 620L735 780Q750 790 775 780L1010 650L1025 650"/>
<path d="M100 45Q150 55 230 160Q235 185 200 240Q195 260 205 280L430 570L470 590H565Q585 600 600 630L720 780Q740 800 775 795L1005 665"/>
<path d="M190 195L150 270Q150 310 165 340L395 625Q410 640 440 640L545 630L565 610M180 200L130 320Q125 350 150 385L365 650Q375 675 395 680H500L515 695M150 310L380 620M175 290L395 560L440 610M190 190Q200 190 205 200L175 290"/>
<path d="M415 640L535 645L550 625M460 605L550 600L570 580"/>
<path d="M595 800L650 870Q680 890 720 875L940 755M680 865L720 815"/>
<path class="w" d="M45 130L110 55L190 145L110 215Z"/>
<path d="M80 75L150 160"/>
<ellipse cx="95" cy="145" rx="22" ry="28" transform="rotate(-10 95 145)"/>
<path class="w" d="M505 725L580 655L650 745L570 815Z"/>
<path d="M545 680L610 775"/>
<ellipse cx="557" cy="745" rx="20" ry="28" transform="rotate(-10 557 745)"/>
<path d="M1025 650L935 760Q945 780 975 775M1020 650L1140 490Q1160 470 1230 470Q1260 480 1300 540"/>
<path class="w" d="M975 775L1185 510Q1230 500 1300 605L1120 835Q1100 855 1075 855Q1020 835 975 775Z"/>
<path d="M1055 680L1185 510M1060 685L1190 515M1115 835L1305 600M1120 838L1310 602"/>
<ellipse cx="1237" cy="560" rx="10" ry="16" transform="rotate(-20 1237 560)"/>
<ellipse cx="1177" cy="637" rx="16" ry="24" transform="rotate(-20 1177 637)"/>
<ellipse cx="1115" cy="715" rx="10" ry="15" transform="rotate(-20 1115 715)"/>
<path d="M1220 465L1240 455L1260 460L1500 790Q1505 815 1495 825L1480 835L1450 810L1330 655L1300 610L1320 605L1480 800M1240 490L1340 620"/>
</g>

<!-- ===== TEXT ===== -->
<text x="1817" y="352" style="font-size:27px" textLength="76">F2291</text>
<g>
<text x="807" y="397.5" textLength="106.5">43015</text>
<text x="853" y="559.6" textLength="127.6">92002B</text>
<text x="351" y="625" textLength="105">92172</text>
<text x="1033" y="675" textLength="103">13236</text>
<text x="297" y="724" textLength="106.5">43026</text>
<text x="1045.5" y="805" textLength="105">49016</text>
<text x="301" y="860" textLength="105">43027</text>
<text x="856" y="958" textLength="104">92015</text>
<text x="299" y="986" textLength="105">43028</text>
<text x="1013" y="1066" textLength="106">43022</text>
<text x="891" y="1124" textLength="105">43020</text>
<text x="959" y="1206" textLength="105">92150</text>
<text x="435" y="1337" textLength="106">27010</text>
<text x="764" y="1405" textLength="106.5">43034</text>
<text x="484" y="1421" textLength="105">92002</text>
<text x="1044" y="1477" textLength="105">92066</text>
<text x="1732" y="738" textLength="103">49091</text>
<text x="1616" y="805" textLength="103">49091</text>
<text x="1512" y="862" textLength="105">92153</text>
<text x="1780" y="1037.5" textLength="105">43095</text>
<text x="1190" y="1094" textLength="128">92002A</text>
<text x="1692" y="1124" textLength="105">92037</text>
<text x="1198.5" y="1820" textLength="106">43064</text>
<text x="1536.5" y="1849.5" textLength="302" style="font-family:'Liberation Mono',monospace;font-size:32px">Ref.Front Fork</text>
<text x="671" y="1549" textLength="130">92171B</text>
<text x="915" y="1762" textLength="105">43064</text>
<text x="1116.5" y="1928" textLength="128">92171A</text>
<text x="670" y="2035" textLength="107">43064</text>
<text x="580" y="2150" textLength="104">92171</text>
<text x="711" y="2269" textLength="103">49091</text>
<text x="851" y="2320" textLength="103">49091</text>
<text x="967" y="2362" textLength="105">92153</text>
<text x="454" y="2369" textLength="105">92153</text>
<text x="197.5" y="2486" textLength="104">49091</text>
<text x="326" y="2532.5" textLength="103">49091</text>
<text x="312" y="1371" style="font-size:28px">A</text>
<text x="1866" y="788" style="font-size:28px">A</text>
</g>
</svg>
</body></html>
